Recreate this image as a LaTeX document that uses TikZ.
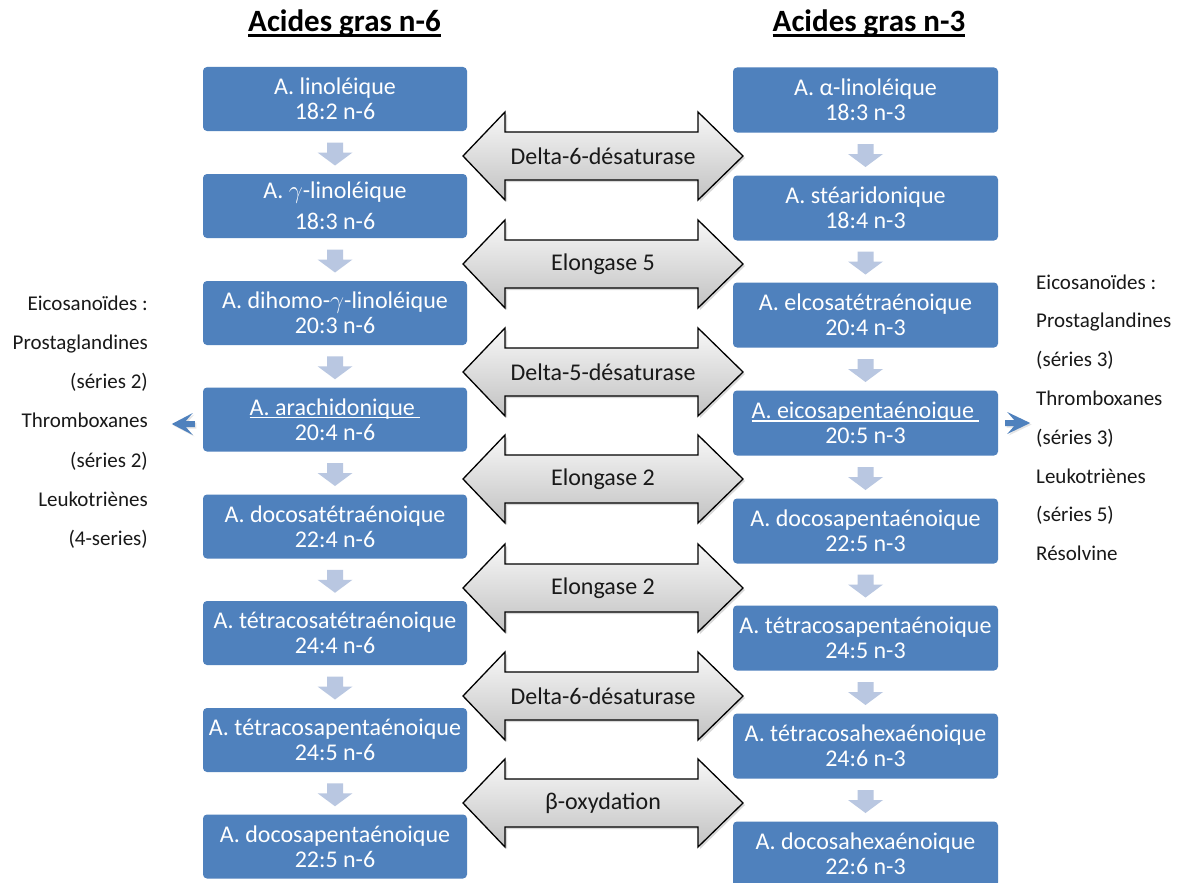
\documentclass[tikz,border=0pt]{standalone}
\usepackage{fontspec}
\setmainfont{Carlito}
\usetikzlibrary{calc,shadows,arrows.meta}
\definecolor{boxblue}{RGB}{79,129,189}
\definecolor{dnblue}{RGB}{185,199,225}
\definecolor{lblcol}{RGB}{25,25,25}
\newcommand\myul[3]{\setbox0\hbox{#1}\rlap{\rule[#2]{\wd0}{#3}}\box0}
\newcommand\dnarr[2]{%
  \coordinate (m) at ($(#1.south)!0.5!(#2.north)$);
  \fill[dnblue] ($(m)+(-8,-10)$) -- ($(m)+(8,-10)$) -- ($(m)+(8,0)$) -- ($(m)+(17.5,0)$)
    -- ($(m)+(0,13)$) -- ($(m)+(-17.5,0)$) -- ($(m)+(-8,0)$) -- cycle;}
\newcommand\dbl[3]{%
  \path[dblshape] (463,#2) -- (505,#2-44) -- (505,#2-24) -- (698,#2-24) -- (698,#2-44)
    -- (743,#2) -- (698,#2+44) -- (698,#2+24) -- (505,#2+24) -- (505,#2+44) -- cycle;
  \node[dbllbl] (#1) at (603,#2) {#3};}
\begin{document}
\begin{tikzpicture}[x=1pt,y=-1pt,
  fabox/.style={rectangle, rounded corners=4pt, fill=boxblue, text=white, align=center,
    minimum width=264pt, minimum height=64pt, inner sep=0pt, font=\fontsize{24}{25}\selectfont},
  fabox3/.style={fabox, minimum width=265pt, minimum height=65pt},
  dblshape/.style={draw=black, line width=1.3pt, line join=miter, top color=gray!6, bottom color=gray!48,
    drop shadow={opacity=0.3, shadow xshift=2pt, shadow yshift=-2pt}},
  dbllbl/.style={inner sep=0pt, text=lblcol, font=\fontsize{24}{28}\selectfont},
  titletxt/.style={inner sep=0pt, anchor=base, font=\fontsize{31}{36}\selectfont\bfseries},
  sidetxt/.style={inner sep=0pt, text=black!90, font=\fontsize{21}{24}\selectfont},
  sidearr/.style={fill=boxblue, drop shadow={opacity=0.2, shadow xshift=1.5pt, shadow yshift=-1.5pt}}]
\useasboundingbox (0,0) rectangle (1179,883);
\fill[white] (0,0) rectangle (1179,883);

% titles
\node[titletxt] (T6) at (344.5,32) {\myul{Acides gras n-6}{-0.16em}{0.1em}};
\node[titletxt] (T3) at (869,32) {\myul{Acides gras n-3}{-0.16em}{0.1em}};

% left column (n-6)
\node[fabox] (L1) at (335,99) {A. linoléique\\18:2 n-6};
\node[fabox] (L2) at (335,206) {A. $\gamma$-linoléique\\[6pt]18:3 n-6};
\node[fabox] (L3) at (335,313) {A. dihomo-$\gamma$-linoléique\\20:3 n-6};
\node[fabox] (L4) at (335,419.5) {\myul{A. arachidonique\ }{-0.12em}{0.06em}\\20:4 n-6};
\node[fabox] (L5) at (335,526.5) {A. docosatétraénoique\\22:4 n-6};
\node[fabox] (L6) at (335,633) {A. tétracosatétraénoique\\24:4 n-6};
\node[fabox] (L7) at (335,740) {A. tétracosapentaénoique\\24:5 n-6};
\node[fabox] (L8) at (335,846.5) {A. docosapentaénoique\\22:5 n-6};

% right column (n-3)
\node[fabox3] (R1) at (865.5,100) {A. α-linoléique\\18:3 n-3};
\node[fabox3] (R2) at (865.5,208) {A. stéaridonique\\18:4 n-3};
\node[fabox3] (R3) at (865.5,315) {A. elcosatétraénoique\\20:4 n-3};
\node[fabox3] (R4) at (865.5,423) {\myul{A. eicosapentaénoique\ }{-0.12em}{0.06em}\\20:5 n-3};
\node[fabox3] (R5) at (865.5,531) {A. docosapentaénoique\\22:5 n-3};
\node[fabox3] (R6) at (865.5,638) {A. tétracosapentaénoique\\24:5 n-3};
\node[fabox3] (R7) at (865.5,746) {A. tétracosahexaénoique\\24:6 n-3};
\node[fabox3] (R8) at (865.5,854) {A. docosahexaénoique\\22:6 n-3};

% down arrows
\dnarr{L1}{L2}\dnarr{L2}{L3}\dnarr{L3}{L4}\dnarr{L4}{L5}\dnarr{L5}{L6}\dnarr{L6}{L7}\dnarr{L7}{L8}
\dnarr{R1}{R2}\dnarr{R2}{R3}\dnarr{R3}{R4}\dnarr{R4}{R5}\dnarr{R5}{R6}\dnarr{R6}{R7}\dnarr{R7}{R8}

% enzyme double arrows
\dbl{E1}{156}{Delta-6-désaturase}
\dbl{E2}{264}{Elongase 5}
\dbl{E3}{372}{Delta-5-désaturase}
\dbl{E4}{479}{Elongase 2}
\dbl{E5}{588}{Elongase 2}
\dbl{E6}{696}{Delta-6-désaturase}
\dbl{E7}{803}{β-oxydation}

% side arrows (chevrons)
\coordinate (LA) at ($(L4.west)+(-31,4.5)$);
\path[sidearr] (LA) -- ++(21,-11) -- ++(-7,8) -- ++(9,0) -- ++(0,6) -- ++(-9,0) -- ++(7,8) -- cycle;
\coordinate (RA) at ($(R4.east)+(32,0)$);
\path[sidearr] (RA) -- ++(-23,-11) -- ++(7,8) -- ++(-9,0) -- ++(0,6) -- ++(9,0) -- ++(-7,8) -- cycle;

% side texts
\foreach \t [count=\i] in {Eicosanoïdes :, Prostaglandines, (séries 2), Thromboxanes, (séries 2), Leukotriènes, (4-series)}
  \node[sidetxt, anchor=base east] (SL\i) at (148,{310+39.3*(\i-1)}) {\t};
\foreach \t [count=\i] in {Eicosanoïdes :, Prostaglandines, (séries 3), Thromboxanes, (séries 3), Leukotriènes, (séries 5), Résolvine}
  \node[sidetxt, anchor=base west] (SR\i) at (1036,{289+38.8*(\i-1)}) {\t};
\end{tikzpicture}
\end{document}
